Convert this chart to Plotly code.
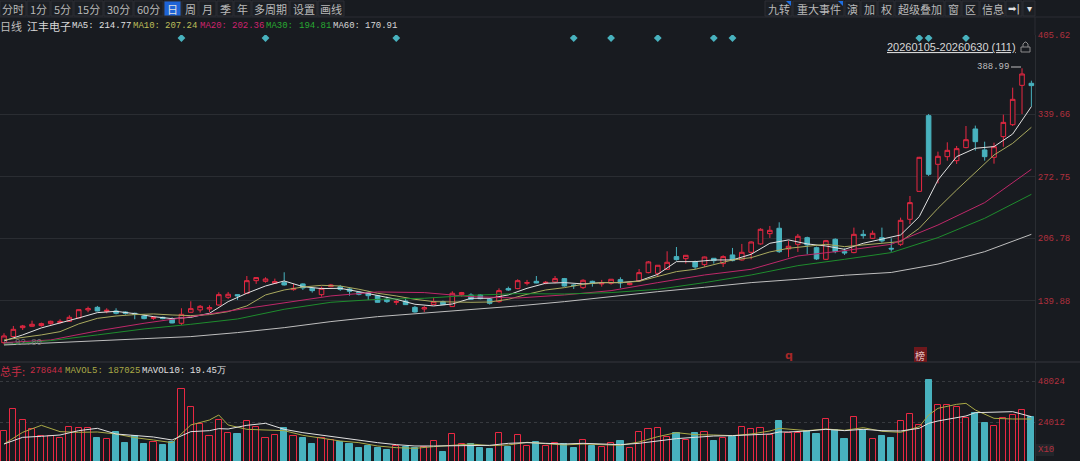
import plotly.graph_objects as go
from plotly.subplots import make_subplots

BG = "rgb(24,27,32)"
RED = "rgb(232,40,66)"
TEAL = "rgb(72,178,190)"
GRID = "rgb(42,45,50)"
AXIS_RED = "rgb(176,48,62)"
MONO = "Liberation Mono"
CJK = "Noto Sans CJK SC"

days = list(range(111))

opens = [94.7, 101.2, 110.8, 112.3, 113.0, 115.1, 116.2, 117.6, 121.2, 129.8,
         132.6, 128.3, 128.7, 127.6, 126.2, 123.3, 120.8, 121.9, 119.8, 115.5,
         127.3, 129.8, 130.8, 135.1, 143.4, 146.2, 147.7, 161.2, 160.5, 158.4,
         159.1, 151.6, 157.7, 153.0, 146.2, 154.8, 154.8, 152.3, 148.7, 148.4,
         145.1, 141.2, 138.0, 139.4, 132.6, 130.8, 135.5, 138.7, 133.4, 146.2,
         145.9, 145.9, 141.2, 138.7, 152.7, 152.7, 158.4, 160.5, 158.7, 159.8,
         163.4, 156.6, 153.7, 160.5, 157.7, 158.4, 162.3, 156.9, 160.9, 169.8,
         169.1, 173.4, 187.0, 184.8, 181.6, 178.4, 185.2, 179.5, 188.8, 183.4,
         191.6, 200.6, 211.6, 217.4, 195.2, 200.2, 207.3, 196.6, 184.1, 205.6,
         192.3, 191.3, 210.9, 206.6, 207.3, 195.9, 200.2, 227.0, 257.0, 338.2,
         286.0, 294.2, 289.9, 303.9, 323.9, 301.4, 293.5, 315.7, 328.5, 370.7,
         372.9]
highs = [104.8, 112.6, 113.7, 118.3, 116.2, 118.3, 119.8, 124.1, 130.5, 133.4,
         134.1, 131.6, 131.6, 128.3, 126.9, 125.1, 123.3, 122.6, 121.9, 131.6,
         139.1, 135.1, 134.8, 148.7, 149.1, 146.4, 166.2, 164.8, 164.8, 163.4,
         170.2, 157.7, 158.4, 154.1, 154.8, 157.7, 156.6, 153.4, 149.4, 150.2,
         145.9, 144.1, 141.2, 142.3, 134.1, 134.1, 143.0, 139.8, 149.8, 149.1,
         147.7, 146.9, 142.6, 153.0, 154.8, 162.7, 162.0, 166.2, 160.9, 166.2,
         164.1, 157.3, 162.7, 161.2, 162.0, 163.0, 164.8, 159.1, 173.7, 182.3,
         178.0, 192.7, 197.3, 188.8, 182.7, 187.0, 185.5, 188.4, 196.3, 200.6,
         203.4, 217.4, 219.9, 223.8, 204.1, 211.3, 208.4, 197.7, 204.9, 206.6,
         195.9, 218.1, 215.6, 214.9, 218.1, 206.6, 228.8, 252.0, 294.0, 340.0,
         299.6, 309.6, 305.7, 327.1, 327.5, 310.3, 309.2, 339.3, 368.2, 388.99,
         375.7]
lows = [92.8, 100.5, 108.3, 111.9, 111.9, 114.0, 115.1, 117.3, 120.8, 127.3,
        128.3, 126.2, 125.1, 124.8, 119.8, 119.8, 119.1, 119.8, 115.5, 113.7,
        126.9, 126.9, 127.6, 134.4, 141.6, 140.5, 146.9, 157.7, 159.1, 157.7,
        155.9, 150.5, 151.2, 148.4, 144.1, 154.1, 150.2, 145.1, 145.5, 140.5,
        137.6, 137.3, 135.1, 135.1, 126.9, 127.6, 135.1, 135.1, 133.0, 144.1,
        140.5, 141.2, 135.5, 137.6, 150.2, 152.0, 156.2, 158.4, 157.3, 158.4,
        154.8, 152.3, 152.3, 154.8, 154.8, 156.9, 153.4, 156.2, 160.2, 169.1,
        165.5, 172.7, 182.7, 179.5, 173.4, 176.2, 179.5, 175.9, 182.0, 182.7,
        184.1, 199.8, 207.0, 190.9, 186.3, 192.0, 189.5, 183.4, 183.4, 190.6,
        188.8, 190.6, 206.3, 205.9, 202.0, 192.3, 198.4, 222.0, 256.8, 273.5,
        265.6, 289.9, 286.4, 303.2, 300.7, 289.9, 286.7, 304.9, 327.1, 340.0,
        347.9]
closes = [101.9, 109.0, 112.6, 114.4, 115.1, 117.6, 117.6, 121.9, 130.1, 131.2,
          128.7, 129.4, 126.2, 126.2, 125.1, 120.5, 121.6, 120.5, 115.8, 125.1,
          131.2, 133.7, 132.3, 146.2, 146.6, 144.8, 161.2, 164.5, 163.0, 160.2,
          156.6, 153.0, 153.4, 150.5, 153.0, 156.6, 151.9, 149.8, 146.6, 145.1,
          138.0, 138.7, 138.7, 135.5, 127.6, 132.3, 138.7, 135.5, 147.7, 148.4,
          141.2, 141.9, 136.9, 150.5, 151.2, 161.2, 159.1, 158.7, 159.4, 163.4,
          155.5, 155.9, 161.6, 158.4, 158.4, 162.7, 158.7, 158.4, 169.8, 181.3,
          177.7, 180.9, 183.8, 188.4, 175.9, 186.6, 182.7, 187.0, 182.7, 191.6,
          202.7, 216.3, 215.2, 192.3, 198.1, 208.8, 199.5, 184.5, 204.1, 192.3,
          190.9, 210.9, 209.5, 212.0, 203.8, 195.2, 225.9, 244.9, 293.5, 275.3,
          294.6, 301.0, 302.8, 312.4, 310.3, 294.2, 304.9, 331.0, 355.7, 382.9,
          370.4]

ma_fast_days = list(range(0, 111, 2))
ma5 = [96.5, 103.0, 110.5, 115.5, 121.2, 126.9, 128.3, 125.8, 122.6, 120.5,
       121.9, 126.2, 138.7, 147.7, 155.5, 160.9, 154.8, 152.7, 153.0, 149.4,
       145.1, 141.2, 135.9, 134.1, 136.2, 142.3, 142.3, 145.9, 153.0, 158.4,
       159.1, 157.7, 159.1, 159.1, 160.9, 168.0, 181.6, 181.6, 183.4, 183.4,
       189.5, 201.3, 204.9, 200.6, 198.4, 194.8, 201.3, 205.6, 210.2, 229.9,
       269.2, 294.2, 303.2, 305.0, 318.5, 347.9]
ma10 = [97.6, 100.1, 103.0, 106.5, 114.8, 120.8, 123.3, 124.8, 125.5, 124.4,
        123.7, 124.8, 128.0, 134.1, 145.9, 151.2, 154.4, 156.2, 155.5, 152.0,
        147.7, 144.8, 141.2, 138.7, 138.0, 138.0, 138.3, 141.2, 146.6, 151.2,
        153.7, 157.3, 159.1, 159.1, 160.5, 165.5, 170.9, 173.4, 178.8, 183.4,
        185.9, 192.0, 195.9, 197.7, 200.2, 197.7, 199.5, 201.6, 203.1, 217.4,
        238.8, 258.5, 277.1, 296.0, 308.5, 325.7]

ma_slow_days = list(range(0, 111, 5))
ma20 = [94.7, 97.6, 107.3, 115.5, 122.6, 129.8, 137.6, 144.8, 149.1, 148.4,
        144.1, 142.6, 145.9, 150.5, 159.1, 167.3, 173.4, 187.7, 193.4, 200.2,
        220.9, 244.9, 280.6]
ma30 = [92.6, 96.9, 103.0, 109.4, 114.4, 120.1, 130.5, 138.0, 141.2, 142.3,
        145.5, 147.3, 146.9, 148.4, 151.9, 159.1, 167.3, 177.3, 184.1, 191.3,
        207.4, 228.1, 253.8]
ma60 = [92.2, 94.7, 96.5, 99.0, 101.2, 105.5, 110.8, 117.3, 122.6, 126.2,
        130.1, 134.1, 138.7, 144.1, 149.4, 154.1, 159.1, 162.7, 167.0, 170.0,
        179.0, 192.3, 210.9]

volumes = [18749, 31828, 25191, 19725, 15821, 15821, 14650, 21092, 20311, 20701,
           14650, 13869, 18163, 11527, 15821, 11137, 12308, 10551, 12503, 43149,
           32608, 22849, 15626, 25191, 17383, 17188, 24801, 21287, 14455, 16212,
           20701, 15626, 14845, 11137, 14455, 13479, 12113, 11137, 8599, 9965,
           8989, 7428, 9965, 9185, 8599, 9575, 12893, 6451, 16992, 11137,
           11137, 8989, 8013, 17383, 9575, 16407, 9965, 12503, 9965, 11527,
           10941, 8599, 13284, 10161, 9380, 11918, 13089, 8794, 17968, 19725,
           20701, 15431, 17383, 13479, 17773, 18163, 13089, 14455, 15431, 21092,
           19725, 20506, 16602, 24410, 17773, 17383, 18554, 16992, 25777, 19335,
           13869, 26753, 19335, 13869, 15626, 14650, 24410, 28900, 22068, 48420,
           33975, 33975, 32608, 26362, 29095, 23239, 21677, 26167, 27924, 30852,
           26753]

mavol_days = [0, 2, 4, 6, 8, 10, 12, 14, 16, 18, 20, 22, 23, 24, 26, 28, 30, 32, 34, 36,
              38, 40, 42, 44, 46, 48, 50, 52, 54, 56, 58, 60, 62, 64, 66, 68, 70, 72, 74, 76,
              78, 80, 82, 83, 84, 86, 88, 90, 92, 94, 96, 98, 99, 100, 102, 103, 104, 106, 108, 110]
mavol5 = [11137, 17968, 22068, 18359, 17968, 18163, 16992, 14845, 13479, 11918,
          22263, 25191, 28119, 22263, 19725, 19335, 18945, 16212, 14455, 12893,
          11918, 9965, 8989, 8599, 9575, 10551, 11137, 10161, 10551, 12113,
          11527, 10551, 11137, 10551, 10356, 12308, 15431, 17773, 16602, 16407,
          16017, 16992, 18749, 20311, 19725, 18945, 19921, 19140, 20701, 18554,
          17968, 21287, 28119, 32023, 34365, 34951, 31047, 26167, 25777, 25777]
mavol10 = [11137, 15041, 15626, 16407, 18945, 20311, 16992, 16017, 15236, 13479,
           18359, 18945, 20116, 19921, 22068, 23239, 19725, 17773, 16212, 14650,
           13089, 11918, 10746, 9965, 9965, 9965, 10356, 10356, 11527, 11918,
           11527, 11137, 11527, 11137, 10746, 11527, 12893, 14260, 15041, 15821,
           16017, 16407, 16992, 18163, 18163, 18749, 19725, 18945, 19725, 18945,
           18749, 20311, 23239, 24605, 26753, 27534, 29485, 29681, 30071, 27143]

event_days = [19, 28, 42, 61, 65, 70, 76, 78, 98, 99, 103]
event_level = [421.5] * len(event_days)

price_ticks = [424.7, 339.66, 272.75, 206.78, 139.88]
price_labels = ["405.62", "339.66", "272.75", "206.78", "139.88"]
volume_ticks = [48024, 24012]
volume_labels = ["48024", "24012"]

left_tools = ["分时", "1分", "5分", "15分", "30分", "60分", "日", "周", "月", "季", "年", "多周期", "设置", "画线"]
left_edges = [0, 27, 51, 74, 104, 134, 164, 182, 199, 217, 234, 252, 290, 318, 345]
right_tools = ["九转", "重大事件", "演", "加", "权", "超级叠加", "窗", "区", "信息", "➡|", "▾"]
right_edges = [765, 793, 845, 861, 878, 895, 945, 962, 980, 1006, 1023, 1036]

# (text, left px, colour)
price_header = [("日线", 0, "rgb(190,190,190)"), ("江丰电子", 27, "rgb(215,215,215)"),
                ("MA5:", 72, "rgb(225,225,225)"), ("214.77", 99, "rgb(225,225,225)"),
                ("MA10:", 133, "rgb(190,190,90)"), ("207.24", 165, "rgb(190,190,90)"),
                ("MA20:", 200, "rgb(205,35,110)"), ("202.36", 232, "rgb(205,35,110)"),
                ("MA30:", 266, "rgb(40,170,50)"), ("194.81", 299, "rgb(40,170,50)"),
                ("MA60:", 333, "rgb(215,215,215)"), ("170.91", 365, "rgb(215,215,215)")]
volume_header = [("总手:", 0, "rgb(200,45,70)"), ("278644", 30, "rgb(200,45,70)"),
                 ("MAVOL5:", 65, "rgb(170,170,70)"), ("187025", 108, "rgb(170,170,70)"),
                 ("MAVOL10:", 142, "rgb(225,225,225)"), ("19.45万", 190, "rgb(225,225,225)")]

W, H = 1080, 461
PLOT_RIGHT = 1035


def px(x):
    return x / W


def py(y):
    return 1 - y / H


fig = make_subplots(rows=2, cols=1, shared_xaxes=True, vertical_spacing=0)

fig.add_trace(go.Candlestick(x=days, open=opens, high=highs, low=lows, close=closes,
                             increasing=dict(line=dict(color=RED, width=1), fillcolor=BG),
                             decreasing=dict(line=dict(color=TEAL, width=1), fillcolor=TEAL),
                             whiskerwidth=0, hoverinfo="skip"),
              row=1, col=1)

ma_lines = [(ma_fast_days, ma5, "rgb(225,225,225)"), (ma_fast_days, ma10, "rgb(170,170,95)"),
            (ma_slow_days, ma20, "rgb(190,40,105)"), (ma_slow_days, ma30, "rgb(30,140,45)"),
            (ma_slow_days, ma60, "rgb(190,190,190)")]
for xs, ys, color in ma_lines:
    fig.add_trace(go.Scatter(x=xs, y=ys, mode="lines", line=dict(color=color, width=1), hoverinfo="skip"),
                  row=1, col=1)

fig.add_trace(go.Scatter(x=event_days, y=event_level, mode="markers",
                         marker=dict(symbol="diamond", size=6, color=TEAL), hoverinfo="skip"),
              row=1, col=1)

bar_fill = [BG if c >= o else TEAL for o, c in zip(opens, closes)]
bar_line = [RED if c >= o else TEAL for o, c in zip(opens, closes)]
fig.add_trace(go.Bar(x=days, y=volumes, width=0.66, marker=dict(color=bar_fill, line=dict(color=bar_line, width=1)),
                     hoverinfo="skip"),
              row=2, col=1)
fig.add_trace(go.Scatter(x=mavol_days, y=mavol5, mode="lines", line=dict(color="rgb(170,170,70)", width=1), hoverinfo="skip"),
              row=2, col=1)
fig.add_trace(go.Scatter(x=mavol_days, y=mavol10, mode="lines", line=dict(color="rgb(225,225,225)", width=1), hoverinfo="skip"),
              row=2, col=1)

fig.update_xaxes(range=[-0.428, 110.39], showgrid=False, zeroline=False, showticklabels=False, ticks="",
                 rangeslider_visible=False, domain=[0, px(PLOT_RIGHT)], automargin=False)
fig.update_yaxes(row=1, col=1, domain=[py(360), py(35)], range=[76.1, 424.7], side="right",
                 tickmode="array", tickvals=price_ticks, ticktext=price_labels,
                 tickfont=dict(family=MONO, size=9, color=AXIS_RED), ticks="", automargin=False,
                 gridcolor=GRID, gridwidth=1, zeroline=False, showline=True, linecolor=GRID)
fig.update_yaxes(row=2, col=1, domain=[0, py(362)], range=[1171, 59155], side="right",
                 tickmode="array", tickvals=volume_ticks, ticktext=volume_labels,
                 tickfont=dict(family=MONO, size=9, color=AXIS_RED), ticks="", automargin=False,
                 gridcolor="rgb(55,58,63)", griddash="dot", zeroline=False, showline=True, linecolor=GRID)

shapes = [dict(type="line", xref="paper", yref="paper", x0=0, x1=1, y0=py(17), y1=py(17),
               line=dict(color=GRID, width=1)),
          dict(type="line", xref="paper", yref="paper", x0=0, x1=1, y0=py(362), y1=py(362),
               line=dict(color="rgb(52,55,60)", width=1)),
          dict(type="line", xref="paper", yref="paper", x0=px(PLOT_RIGHT), x1=px(PLOT_RIGHT), y0=py(17), y1=py(35),
               line=dict(color=GRID, width=1)),
          dict(type="rect", xref="paper", yref="paper", x0=px(1036), x1=px(1054), y0=py(456), y1=py(444),
               fillcolor="rgb(34,37,42)", line=dict(width=0)),
          dict(type="rect", xref="paper", yref="paper", x0=px(914), x1=px(927), y0=py(362), y1=py(347),
               fillcolor="rgb(110,24,28)", line=dict(width=0)),
          # arrows beside the high and low labels
          dict(type="line", xref="paper", yref="paper", x0=px(1011), x1=px(1021), y0=py(67), y1=py(67),
               line=dict(color="rgb(190,190,190)", width=1)),
          dict(type="line", xref="paper", yref="paper", x0=px(4), x1=px(13), y0=py(343), y1=py(343),
               line=dict(color="rgb(120,120,120)", width=1)),
          # padlock next to the date range
          dict(type="rect", xref="paper", yref="paper", x0=px(1021), x1=px(1030), y0=py(52), y1=py(47),
               line=dict(color="rgb(140,140,140)", width=1)),
          dict(type="path", xref="paper", yref="paper",
               path=f"M {px(1023)} {py(47)} L {px(1023)} {py(44)} L {px(1025)} {py(42)} L {px(1026)} {py(42)} "
                    f"L {px(1028)} {py(44)} L {px(1028)} {py(47)}",
               line=dict(color="rgb(140,140,140)", width=1))]
annotations = []


def label(text, x, y, color, size=11, family=CJK, anchor="left"):
    annotations.append(dict(text=text, x=px(x), y=py(y), xref="paper", yref="paper", showarrow=False,
                            xanchor=anchor, yanchor="middle", font=dict(family=family, size=size, color=color),
                            borderpad=0, borderwidth=0))


for names, edges in [(left_tools, left_edges), (right_tools, right_edges)]:
    for i, name in enumerate(names):
        active = name == "日"
        shapes.append(dict(type="rect", xref="paper", yref="paper", x0=px(edges[i]), x1=px(edges[i + 1] - 1),
                           y0=py(1), y1=py(16), line=dict(color="rgb(44,47,52)", width=1),
                           fillcolor="rgb(30,100,215)" if active else "rgb(28,31,36)"))
        icon = name in ("➡|", "▾")
        label(name, (edges[i] + edges[i + 1] - 1) / 2, 9, "rgb(225,225,225)" if active or icon else "rgb(185,185,185)",
              size=10 if icon else 11, family="DejaVu Sans" if icon else CJK, anchor="center")

# corner flags on the two event buttons
for edge in [791, 843]:
    shapes.append(dict(type="path", xref="paper", yref="paper",
                       path=f"M {px(edge - 5)} {py(1)} L {px(edge)} {py(1)} L {px(edge)} {py(6)} Z",
                       fillcolor="rgb(30,110,225)", line=dict(width=0)))

for text, x, color in price_header:
    is_cjk = any(ord(ch) > 127 for ch in text)
    label(text, x, 26, color, size=11 if is_cjk else 9, family=CJK if is_cjk else MONO)
for text, x, color in volume_header:
    is_cjk = text.startswith("总手")
    label(text, x, 371, color, size=11 if is_cjk else 9, family=CJK if is_cjk else MONO)

label("<u>20260105-20260630 (111)</u>", 887, 47, "rgb(215,215,215)", size=11, family="Liberation Sans")
label("388.99", 977, 67, "rgb(190,190,190)", size=9, family=MONO)
label("92.80", 15, 343, "rgb(120,120,120)", size=9, family=MONO)
label("<b>q</b>", 785, 355, "rgb(165,40,40)", size=11, family="DejaVu Sans")
label("榜", 920, 355, "rgb(225,190,190)", size=10, anchor="center")
label("X10", 1038, 450, AXIS_RED, size=9, family=MONO)

fig.update_layout(width=W, height=H, margin=dict(l=0, r=0, t=0, b=0, pad=0), paper_bgcolor=BG, plot_bgcolor=BG,
                  showlegend=False, bargap=0, boxgap=0.3, shapes=shapes, annotations=annotations,
                  hovermode=False)

fig.write_html("out.html", config=dict(displayModeBar=False),
               post_script="document.body.style.margin='0';document.body.style.background='rgb(24,27,32)';")
